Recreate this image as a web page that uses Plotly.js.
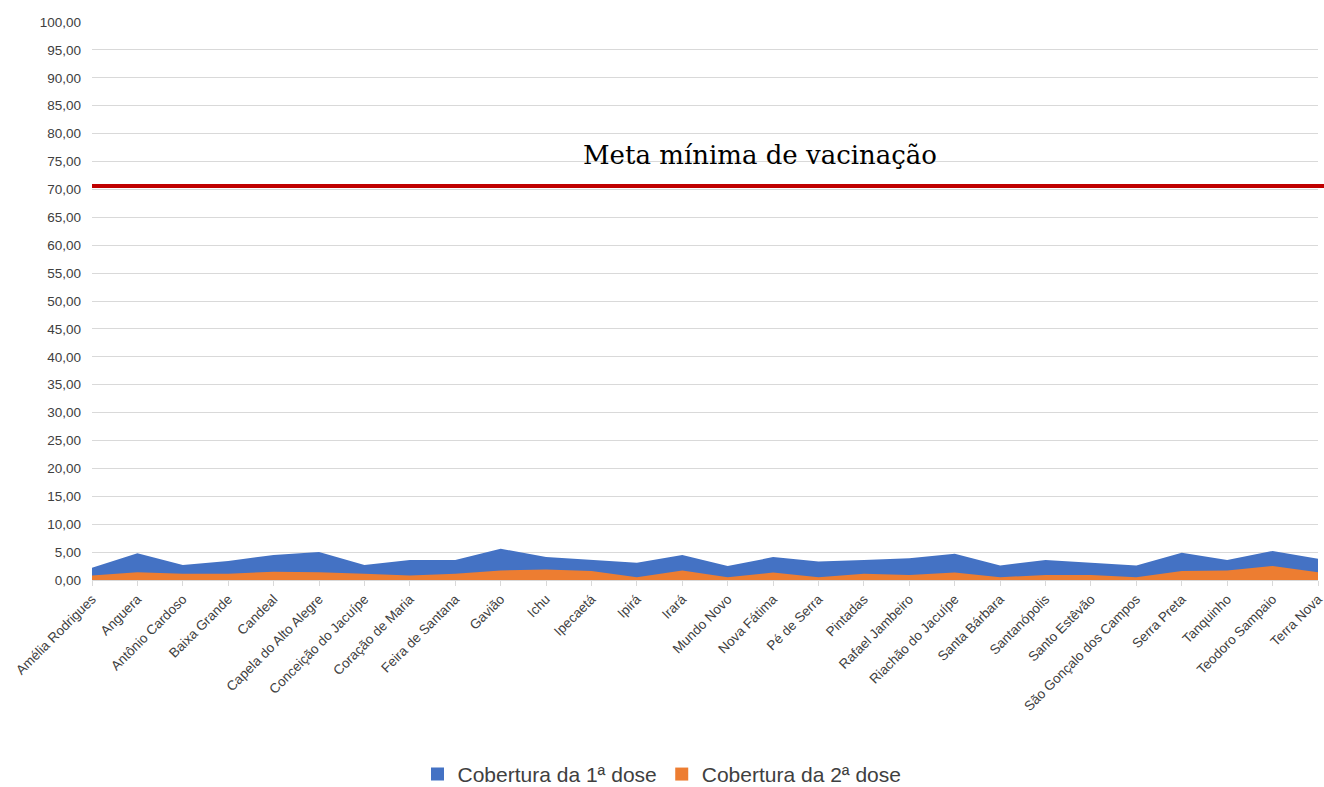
<!DOCTYPE html>
<html><head><meta charset="utf-8">
<script src="https://cdn.plot.ly/plotly-3.0.1.min.js"></script>
<style>html,body{margin:0;padding:0;background:#fff}#chart{width:1324px;height:787px}</style>
</head><body><div id="chart"></div>
<script>
const municipios = ["Amélia Rodrigues","Anguera","Antônio Cardoso","Baixa Grande","Candeal","Capela do Alto Alegre","Conceição do Jacuípe","Coração de Maria","Feira de Santana","Gavião","Ichu","Ipecaetá","Ipirá","Irará","Mundo Novo","Nova Fátima","Pé de Serra","Pintadas","Rafael Jambeiro","Riachão do Jacuípe","Santa Bárbara","Santanópolis","Santo Estêvão","São Gonçalo dos Campos","Serra Preta","Tanquinho","Teodoro Sampaio","Terra Nova"];
const dose1 = [2.2,4.8,2.7,3.4,4.5,5.0,2.7,3.6,3.6,5.6,4.1,3.6,3.1,4.5,2.5,4.1,3.3,3.6,3.9,4.7,2.6,3.6,3.1,2.6,4.9,3.6,5.2,3.8];
const dose2 = [0.8,1.4,1.1,1.1,1.5,1.4,1.1,0.8,1.1,1.7,1.9,1.6,0.5,1.7,0.5,1.35,0.5,1.1,0.9,1.35,0.5,0.9,0.9,0.5,1.6,1.7,2.5,1.4];
const meta = 70.6;
const metaLabel = "Meta mínima de vacinação";
const serieNames = ["Cobertura da 1ª dose","Cobertura da 2ª dose"];
const colors = ["#4472C4","#ED7D31"];

const sans = "'Liberation Sans', Arial, sans-serif";
const traces = [
  {type:'scatter', mode:'lines', x:municipios, y:dose1, name:serieNames[0], fill:'tozeroy', fillcolor:colors[0], line:{width:0,color:colors[0]}, showlegend:false},
  {type:'scatter', mode:'lines', x:municipios, y:dose2, name:serieNames[1], fill:'tozeroy', fillcolor:colors[1], line:{width:0,color:colors[1]}, showlegend:false},
  {type:'scatter', mode:'markers', x:[null], y:[null], name:serieNames[0], marker:{symbol:'square', size:13, color:colors[0]}},
  {type:'scatter', mode:'markers', x:[null], y:[null], name:serieNames[1], marker:{symbol:'square', size:13, color:colors[1]}}
];
const layout = {
  width:1324, height:787,
  margin:{l:92, r:6, t:22, b:207},
  paper_bgcolor:'#fff', plot_bgcolor:'#fff',
  separators:',.',
  showlegend:true,
  legend:{orientation:'h', x:0.5, xref:'container', xanchor:'center', yref:'container', y:0.016, yanchor:'middle',
          font:{family:sans, size:21, color:'#404040'}, itemwidth:14, tracegroupgap:0},
  xaxis:{type:'category', range:[0,27], tickangle:-45, automargin:false, tickfont:{family:sans, size:13.5, color:'#404040'},
         showgrid:false, showline:true, linecolor:'#d9d9d9', ticks:'outside', ticklen:5, tickcolor:'#d9d9d9', zeroline:false},
  yaxis:{range:[0,100], dtick:5, tickformat:'.2f', automargin:false, tickfont:{family:sans, size:13.5, color:'#404040'},
         showgrid:true, gridcolor:'#d9d9d9', gridwidth:1, zeroline:false, showline:false, ticks:'', ticklabelstandoff:10},
  shapes:[{type:'line', xref:'paper', x0:0, x1:1.01, yref:'y', y0:meta, y1:meta, line:{color:'#C00000', width:4}}],
  annotations:[{xref:'paper', x:0.545, yref:'y', y:76.2, text:metaLabel, showarrow:false, xanchor:'center', yanchor:'middle',
    font:{family:"'DejaVu Serif', serif", size:26, color:'#000'}}]
};
Plotly.newPlot('chart', traces, layout, {displayModeBar:false});
</script></body></html>
